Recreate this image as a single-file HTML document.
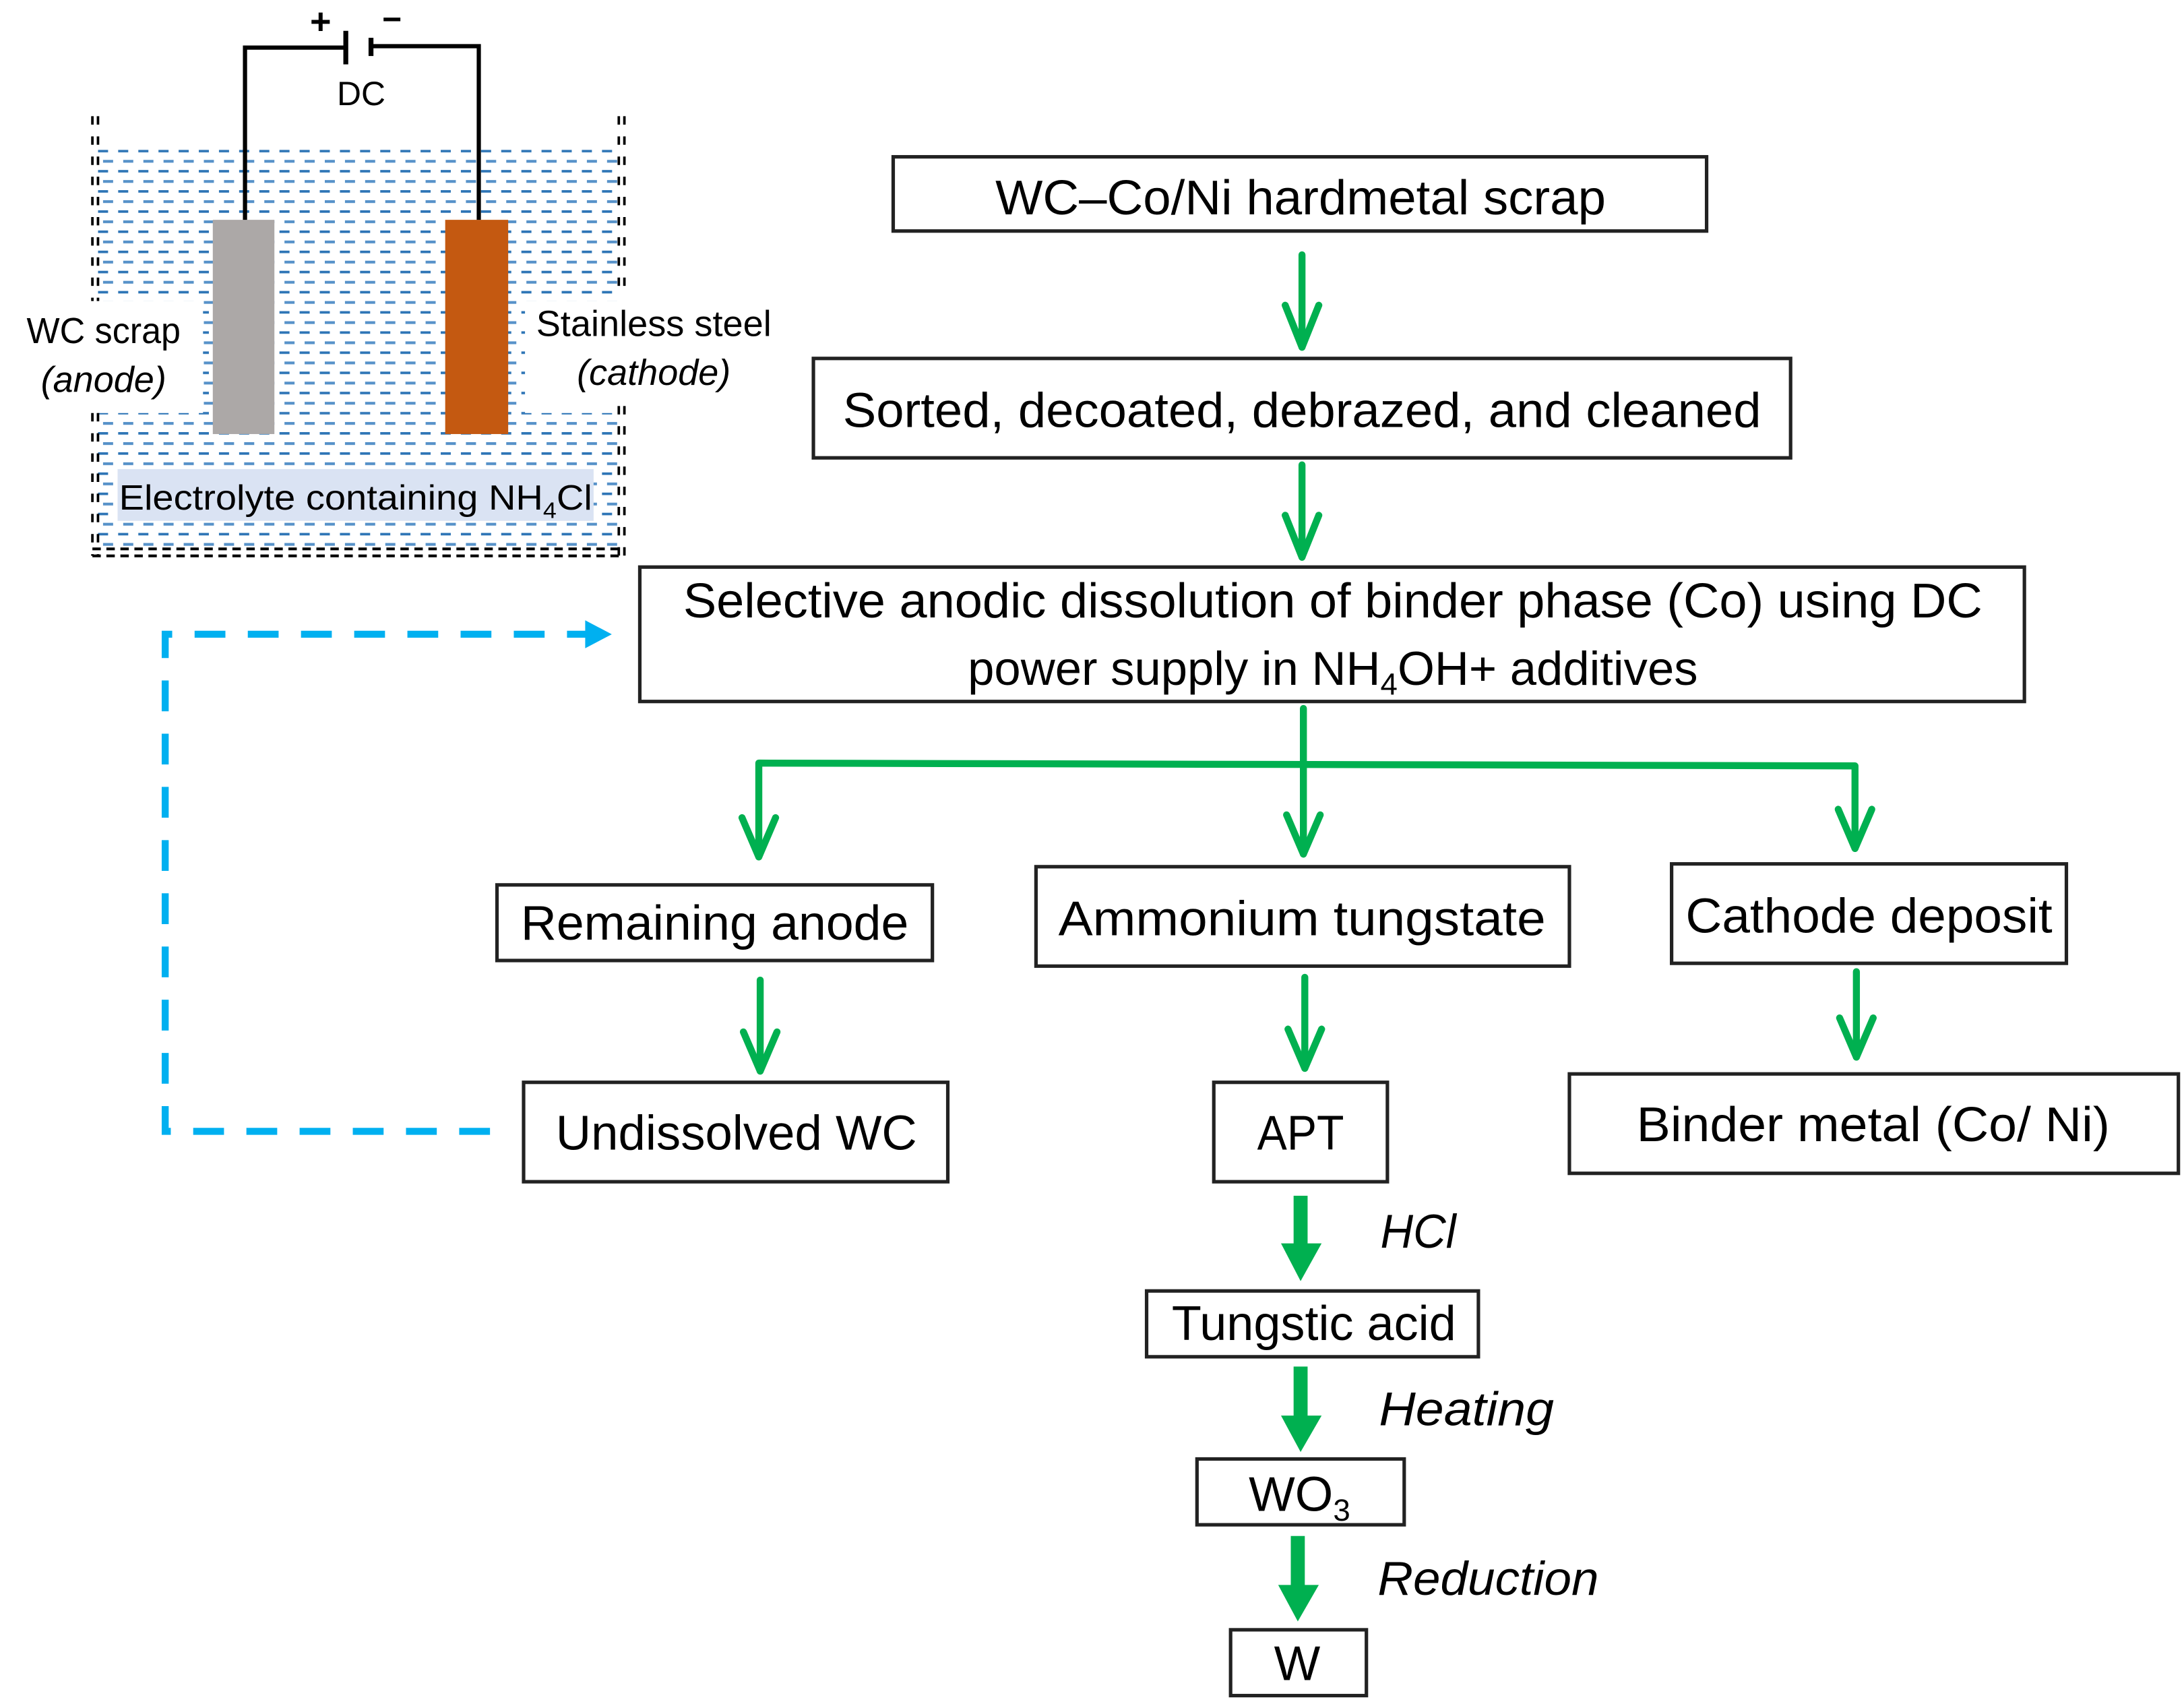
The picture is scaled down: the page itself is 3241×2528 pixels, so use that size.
<!DOCTYPE html>
<html><head><meta charset="utf-8"><style>html,body{margin:0;padding:0;background:#fff}svg{display:block}</style></head>
<body>
<svg width="3241" height="2528" viewBox="0 0 1560 1217" preserveAspectRatio="none" xmlns="http://www.w3.org/2000/svg" font-family="'Liberation Sans', sans-serif">
<defs>
<pattern id="water" x="70" y="107" width="14.4" height="14.4" patternUnits="userSpaceOnUse">
<rect x="0" y="0" width="7.2" height="1.8" fill="#2e75b6"/>
<rect x="3.6" y="7.2" width="7.2" height="2" fill="#3a7fc0" opacity="0.85"/>
</pattern>
</defs>
<rect x="70" y="107" width="372" height="108" fill="url(#water)"/>
<rect x="145" y="215" width="230" height="80" fill="url(#water)"/>
<rect x="70" y="295" width="372" height="96" fill="url(#water)"/>
<g stroke="#000" stroke-width="1.8" stroke-dasharray="6 8.4">
<line x1="66" y1="83" x2="66" y2="215"/><line x1="70" y1="83" x2="70" y2="215"/>
<line x1="66" y1="295" x2="66" y2="397"/><line x1="70" y1="295" x2="70" y2="397"/>
<line x1="442" y1="83" x2="442" y2="212"/><line x1="446" y1="83" x2="446" y2="212"/>
<line x1="442" y1="290" x2="442" y2="397"/><line x1="446" y1="290" x2="446" y2="397"/>
</g>
<g stroke="#000" stroke-width="2" stroke-dasharray="6 4">
<line x1="66" y1="392" x2="446" y2="392"/><line x1="66" y1="397" x2="446" y2="397"/>
</g>
<rect x="84" y="335" width="340" height="37" fill="#dae3f3"/>
<text x="85" y="364" font-size="25" textLength="338" lengthAdjust="spacingAndGlyphs">Electrolyte containing NH<tspan font-size="16" dy="6">4</tspan><tspan dy="-6">Cl</tspan></text>
<rect x="152" y="157" width="44" height="153" fill="#aca8a7"/>
<rect x="318" y="157" width="45" height="153" fill="#c45911"/>
<polyline points="175,157 175,34 247,34" fill="none" stroke="#000" stroke-width="3"/>
<polyline points="266,33 342,33 342,157" fill="none" stroke="#000" stroke-width="3"/>
<line x1="247" y1="22" x2="247" y2="46" stroke="#000" stroke-width="3.5"/>
<line x1="265" y1="27" x2="265" y2="40" stroke="#000" stroke-width="3.5"/>
<text x="229" y="24" font-size="26" font-weight="bold" text-anchor="middle">+</text>
<text x="280" y="22" font-size="24" font-weight="bold" text-anchor="middle">−</text>
<text x="258" y="75" font-size="24" text-anchor="middle">DC</text>
<text x="19" y="245" font-size="26" textLength="110" lengthAdjust="spacingAndGlyphs">WC scrap</text>
<text x="74" y="280" font-size="26" font-style="italic" text-anchor="middle">(anode)</text>
<text x="383" y="240" font-size="26" textLength="168" lengthAdjust="spacingAndGlyphs">Stainless steel</text>
<text x="467" y="275" font-size="26" font-style="italic" text-anchor="middle">(cathode)</text>

<g fill="none" stroke="#222" stroke-width="2.5">
<rect x="638" y="112" width="581" height="53"/>
<rect x="581" y="256" width="698" height="71"/>
<rect x="457" y="405" width="989" height="96"/>
<rect x="355" y="632" width="311" height="54"/>
<rect x="740" y="619" width="381" height="71"/>
<rect x="1194" y="617" width="282" height="71"/>
<rect x="374" y="773" width="303" height="71"/>
<rect x="867" y="773" width="124" height="71"/>
<rect x="1121" y="767" width="435" height="71"/>
<rect x="819" y="922" width="237" height="47"/>
<rect x="855" y="1042" width="148" height="47"/>
<rect x="879" y="1164" width="97" height="47"/>
</g>
<g font-size="35" lengthAdjust="spacingAndGlyphs">
<text x="711" y="153" textLength="436" lengthAdjust="spacingAndGlyphs">WC–Co/Ni hardmetal scrap</text>
<text x="602" y="305" textLength="656" lengthAdjust="spacingAndGlyphs">Sorted, decoated, debrazed, and cleaned</text>
<text x="488" y="441" textLength="928" lengthAdjust="spacingAndGlyphs">Selective anodic dissolution of binder phase (Co) using DC</text>
<text x="952" y="489" text-anchor="middle" font-size="34">power supply in NH<tspan font-size="22" dy="7">4</tspan><tspan dy="-7">OH+ additives</tspan></text>
<text x="372" y="671" textLength="277" lengthAdjust="spacingAndGlyphs">Remaining anode</text>
<text x="756" y="668" textLength="348" lengthAdjust="spacingAndGlyphs">Ammonium tungstate</text>
<text x="1204" y="666" textLength="262" lengthAdjust="spacingAndGlyphs">Cathode deposit</text>
<text x="397" y="821" textLength="258" lengthAdjust="spacingAndGlyphs">Undissolved WC</text>
<text x="898" y="821" textLength="62" lengthAdjust="spacingAndGlyphs">APT</text>
<text x="1169" y="815" textLength="338" lengthAdjust="spacingAndGlyphs">Binder metal (Co/ Ni)</text>
<text x="837" y="957" textLength="203" lengthAdjust="spacingAndGlyphs">Tungstic acid</text>
<text x="892" y="1079">WO<tspan font-size="22" dy="7">3</tspan></text>
<text x="910" y="1200">W</text>
</g>
<g font-size="34" font-style="italic">
<text x="986" y="891" textLength="54" lengthAdjust="spacingAndGlyphs">HCl</text>
<text x="985" y="1018" textLength="125" lengthAdjust="spacingAndGlyphs">Heating</text>
<text x="984" y="1139" textLength="158" lengthAdjust="spacingAndGlyphs">Reduction</text>
</g>

<g stroke="#00b050" stroke-width="5" fill="none" stroke-linecap="round" stroke-linejoin="round">
<line x1="930" y1="182" x2="930" y2="248"/><polyline points="918,218 930,248 942,218"/>
<line x1="930" y1="332" x2="930" y2="398"/><polyline points="918,368 930,398 942,368"/>
<line x1="931" y1="506" x2="931" y2="610"/>
<polyline points="542,612 542,545 1325,547 1325,606"/>
<polyline points="530,584 542,612 554,584"/>
<polyline points="919,582 931,610 943,582"/>
<polyline points="1313,578 1325,606 1337,578"/>
<line x1="543" y1="700" x2="543" y2="765"/><polyline points="531,737 543,765 555,737"/>
<line x1="932" y1="698" x2="932" y2="763"/><polyline points="920,735 932,763 944,735"/>
<line x1="1326" y1="694" x2="1326" y2="755"/><polyline points="1314,727 1326,755 1338,727"/>
</g>
<g fill="#00b050">
<rect x="924" y="854" width="10" height="35"/><polygon points="915,888 944,888 929,915"/>
<rect x="924" y="976" width="10" height="36"/><polygon points="915,1011 944,1011 929,1037"/>
<rect x="922" y="1097" width="10" height="36"/><polygon points="913,1132 942,1132 927,1158"/>
</g>
<polyline points="350,808 118,808 118,453 420,453" fill="none" stroke="#00b0f0" stroke-width="5" stroke-dasharray="22 16"/>
<polygon points="418,443 437,453 418,463" fill="#00b0f0"/>
</svg>
</body></html>
